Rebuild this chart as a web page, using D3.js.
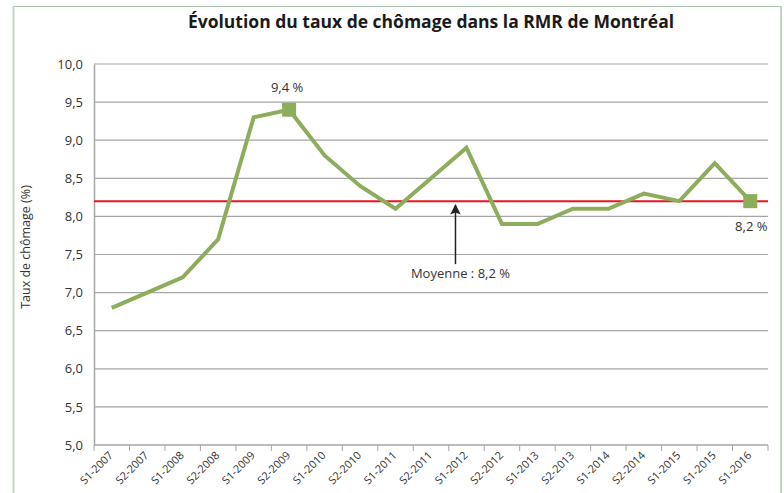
<!DOCTYPE html>
<html>
<head>
<meta charset="utf-8">
<script src="https://cdn.jsdelivr.net/npm/d3@7"></script>
<style>
  body { margin: 0; background: #fff; }
  text { font-family: "Open Sans", "DejaVu Sans", sans-serif; fill: #333; }
</style>
</head>
<body>
<div id="chart"></div>
<script>
// data
var periods = ["S1-2007","S2-2007","S1-2008","S2-2008","S1-2009","S2-2009","S1-2010","S2-2010",
               "S1-2011","S2-2011","S1-2012","S2-2012","S1-2013","S2-2013","S1-2014","S2-2014",
               "S1-2015","S1-2015","S1-2016"];
var rates = [6.8, 7.0, 7.2, 7.7, 9.3, 9.4, 8.8, 8.4, 8.1, 8.5, 8.9, 7.9, 7.9, 8.1, 8.1, 8.3, 8.2, 8.7, 8.2];
var average = 8.2;
var yTicks = [5.0, 5.5, 6.0, 6.5, 7.0, 7.5, 8.0, 8.5, 9.0, 9.5, 10.0];

var svgWidth = 784;
var svgHeight = 493;

var margin = {top: 64, right: 16, bottom: 48, left: 94};
var width = 768 - margin.left;
var height = 445 - margin.top;

var svg = d3.select("#chart")
            .append("svg")
            .attr("width", svgWidth)
            .attr("height", svgHeight);

// outer frame
svg.append("line").attr("x1", 13).attr("x2", 781).attr("y1", 6.5).attr("y2", 6.5)
   .attr("stroke", "#a9c2ac").attr("stroke-width", 1);
svg.append("line").attr("x1", 13.5).attr("x2", 13.5).attr("y1", 6).attr("y2", svgHeight)
   .attr("stroke", "#c5d3c7").attr("stroke-width", 2);
svg.append("line").attr("x1", 781).attr("x2", 781).attr("y1", 6).attr("y2", svgHeight)
   .attr("stroke", "#c5d3c7").attr("stroke-width", 2);

// title
svg.append("text")
   .attr("x", 431)
   .attr("y", 28)
   .attr("text-anchor", "middle")
   .attr("font-size", "17.5px")
   .attr("font-weight", "bold")
   .style("fill", "#1a1a1a")
   .text("Évolution du taux de chômage dans la RMR de Montréal");

var chartGroup = svg.append("g")
                    .attr("transform", `translate(${margin.left},${margin.top})`);

var xBand = d3.scaleBand()
    .domain(d3.range(periods.length))
    .range([0, width]);

var yLinearScale = d3.scaleLinear()
    .domain([5, 10])
    .range([height, 0]);

var fmt = function(v) { return d3.format(".1f")(v).replace(".", ","); };

// horizontal gridlines
chartGroup.selectAll(".grid")
    .data(yTicks.slice(1))
    .enter()
    .append("line")
    .attr("x1", 0)
    .attr("x2", width)
    .attr("y1", d => yLinearScale(d))
    .attr("y2", d => yLinearScale(d))
    .attr("stroke", "#a6a6a6")
    .attr("stroke-width", 1.2);

// left axis
var leftAxis = d3.axisLeft(yLinearScale)
    .tickValues(yTicks)
    .tickSize(0)
    .tickPadding(11)
    .tickFormat(fmt);

var yAxis = chartGroup.append("g").call(leftAxis);
yAxis.select(".domain").attr("stroke", "#a6a6a6").attr("stroke-width", 1.5);
yAxis.selectAll("text").attr("font-size", "13px").style("fill", "#333");

// bottom axis with ticks on category boundaries
chartGroup.append("line")
    .attr("x1", 0).attr("x2", width)
    .attr("y1", height).attr("y2", height)
    .attr("stroke", "#a6a6a6").attr("stroke-width", 1.5);

chartGroup.selectAll(".xtick")
    .data(d3.range(periods.length + 1))
    .enter()
    .append("line")
    .attr("x1", d => d * xBand.step())
    .attr("x2", d => d * xBand.step())
    .attr("y1", height)
    .attr("y2", height + 6)
    .attr("stroke", "#a6a6a6")
    .attr("stroke-width", 1);

chartGroup.selectAll(".xlabel")
    .data(periods)
    .enter()
    .append("text")
    .attr("transform", (d, i) => `translate(${xBand(i) + xBand.bandwidth() / 2 + 2},${height + 11}) rotate(-45)`)
    .attr("text-anchor", "end")
    .attr("font-size", "11px")
    .style("fill", "#333")
    .text(d => d);

// y axis title
svg.append("text")
   .attr("transform", "translate(30,247) rotate(-90)")
   .attr("text-anchor", "middle")
   .attr("font-size", "12.5px")
   .style("fill", "#333")
   .text("Taux de chômage (%)");

// average line
chartGroup.append("line")
    .attr("x1", 0).attr("x2", width)
    .attr("y1", yLinearScale(average))
    .attr("y2", yLinearScale(average))
    .attr("stroke", "#e8161c")
    .attr("stroke-width", 2);

// series line
var line = d3.line()
    .x((d, i) => xBand(i) + xBand.bandwidth() / 2)
    .y(d => yLinearScale(d));

chartGroup.append("path")
    .datum(rates)
    .attr("d", line)
    .attr("fill", "none")
    .attr("stroke", "#8cad5b")
    .attr("stroke-width", 4)
    .attr("stroke-linejoin", "miter");

// highlighted points
var highlights = [5, periods.length - 1];
chartGroup.selectAll(".marker")
    .data(highlights)
    .enter()
    .append("rect")
    .attr("x", i => xBand(i) + xBand.bandwidth() / 2 - 7)
    .attr("y", i => yLinearScale(rates[i]) - 7)
    .attr("width", 14)
    .attr("height", 14)
    .attr("fill", "#8cad5b");

chartGroup.append("text")
    .attr("x", xBand(5) + xBand.bandwidth() / 2 - 2)
    .attr("y", yLinearScale(rates[5]) - 18)
    .attr("text-anchor", "middle")
    .attr("font-size", "13px")
    .text(fmt(rates[5]) + " %");

var last = periods.length - 1;
chartGroup.append("text")
    .attr("x", xBand(last) + xBand.bandwidth() / 2 + 1)
    .attr("y", yLinearScale(rates[last]) + 30)
    .attr("text-anchor", "middle")
    .attr("font-size", "13px")
    .text(fmt(rates[last]) + " %");

// average annotation with arrow
svg.append("defs").append("marker")
    .attr("id", "arrow")
    .attr("viewBox", "0 0 10 10")
    .attr("refX", 9)
    .attr("refY", 5)
    .attr("markerWidth", 8)
    .attr("markerHeight", 7)
    .attr("orient", "auto")
    .append("path")
    .attr("d", "M0,0 L10,5 L0,10 L2,5 Z")
    .attr("fill", "#222");

var arrowX = xBand(10) + xBand.bandwidth() / 2 - 11;
chartGroup.append("line")
    .attr("x1", arrowX).attr("x2", arrowX)
    .attr("y1", yLinearScale(average) + 63)
    .attr("y2", yLinearScale(average) + 4)
    .attr("stroke", "#222")
    .attr("stroke-width", 1.5)
    .attr("marker-end", "url(#arrow)");

chartGroup.append("text")
    .attr("x", arrowX + 5)
    .attr("y", yLinearScale(average) + 77)
    .attr("text-anchor", "middle")
    .attr("font-size", "13px")
    .text("Moyenne : " + fmt(average) + " %");
</script>
</body>
</html>
